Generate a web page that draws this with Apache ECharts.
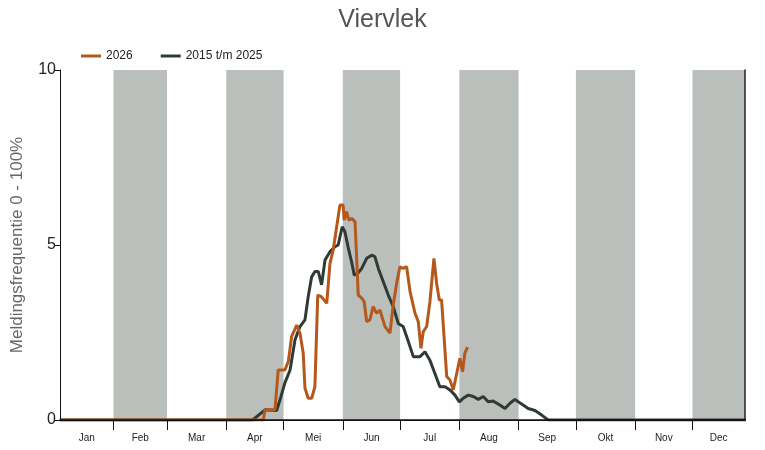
<!DOCTYPE html>
<html>
<head>
<meta charset="utf-8">
<script src="https://cdn.jsdelivr.net/npm/echarts@6/dist/echarts.min.js"></script>
<style>
  html, body { margin: 0; padding: 0; background: #fff; }
  #chart { width: 765px; height: 450px; }
</style>
</head>
<body>
<div id="chart"></div>
<script>
// day of year (Jan 1 = 0), value in %
var months = ['Jan', 'Feb', 'Mar', 'Apr', 'Mei', 'Jun', 'Jul', 'Aug', 'Sep', 'Okt', 'Nov', 'Dec'];
var monthStarts = [0, 31, 59, 90, 120, 151, 181, 212, 243, 273, 304, 334, 365];
var xMin = 3;
var xMax = 361.5;
var yTicks = [0, 5, 10];

var data2026 = [
  [3, 0], [109.4, 0], [110.3, 0.29], [115.5, 0.29], [117.2, 1.43], [120.7, 1.43],
  [122.5, 1.67], [124.2, 2.38], [126.9, 2.71], [128.6, 2.48], [130.3, 1.91], [131.2, 0.91],
  [132.9, 0.62], [134.7, 0.62], [136.4, 0.95], [137.9, 3.57], [139.9, 3.52], [142.6, 3.33],
  [144.3, 4.48], [146, 4.86], [147.8, 5.52], [149.5, 6.14], [151.2, 6.14], [151.7, 5.71],
  [153, 5.95], [154.2, 5.71], [155.6, 5.76], [157.4, 5.67], [158.3, 5.62], [159.1, 3.57],
  [160.9, 3.48], [162.2, 3.38], [163.5, 2.81], [165.2, 2.86], [166.9, 3.24], [168.7, 3.05],
  [170.5, 3.14], [171.7, 2.91], [173.1, 2.67], [175.7, 2.48], [177.4, 3.29], [179.2, 3.91],
  [180.9, 4.38], [182.6, 4.33], [184.4, 4.38], [186.2, 3.67], [188.8, 3.05], [190.5, 2.81],
  [191.9, 2.05], [193.1, 2.52], [194.9, 2.67], [196.6, 3.38], [198.7, 4.62], [200.1, 3.91],
  [201.5, 3.43], [202.7, 3.43], [205.4, 1.24], [207.1, 1.14], [208.8, 0.86], [210.6, 1.33],
  [212.3, 1.76], [213.7, 1.38], [214.9, 1.91], [216.3, 2.08]
];

var dataHist = [
  [3, 0], [103.8, 0], [110.3, 0.29], [116.4, 0.27], [118.1, 0.57], [120.7, 1.06],
  [123.4, 1.43], [126, 2.29], [128.6, 2.67], [131.2, 2.86], [132.9, 3.52], [134.7, 4.09],
  [136.4, 4.24], [138.2, 4.24], [139.9, 3.86], [141.7, 4.57], [144.3, 4.81], [146.9, 4.95],
  [148.6, 5.0], [150.7, 5.52], [152.1, 5.38], [153.9, 4.91], [155.6, 4.52], [157, 4.14],
  [158.8, 4.19], [160.9, 4.33], [163.5, 4.62], [166.1, 4.71], [167.8, 4.67], [169.6, 4.33],
  [172.2, 3.95], [174.8, 3.57], [177.4, 3.24], [180, 2.76], [182.6, 2.67], [185.3, 2.24],
  [187.9, 1.81], [191.4, 1.81], [194, 1.95], [196.6, 1.71], [199.2, 1.33], [201.8, 0.95],
  [204.5, 0.95], [207.1, 0.86], [209.7, 0.71], [212, 0.52], [214, 0.62], [216.7, 0.71],
  [219.3, 0.67], [221.9, 0.59], [224.5, 0.67], [227.1, 0.52], [229.7, 0.54], [233.2, 0.43],
  [235.9, 0.33], [238.5, 0.48], [241.1, 0.59], [242.8, 0.52], [245.4, 0.43], [248, 0.33],
  [251.6, 0.27], [255.1, 0.14], [258.5, 0], [362, 0]
];

// label positions: middle of the visible part of each month
var labelDays = [];
for (var i = 0; i < 12; i++) {
  var a = Math.max(monthStarts[i], xMin);
  var b = Math.min(monthStarts[i + 1], xMax);
  labelDays.push((a + b) / 2);
}

// grey bands for every other month
var bands = [];
for (var j = 1; j < 12; j += 2) {
  bands.push([{xAxis: monthStarts[j]}, {xAxis: Math.min(monthStarts[j + 1], xMax)}]);
}

var font = 'Liberation Sans, Arial, sans-serif';
var myChart = echarts.init(document.getElementById('chart'));

var option = {
  animation: false,
  textStyle: {fontFamily: font},
  title: {
    text: 'Viervlek',
    left: 'center',
    top: 3,
    textStyle: {fontSize: 25, fontWeight: 'normal', color: '#555', fontFamily: font}
  },
  legend: {
    data: ['2026', '2015 t/m 2025'],
    left: 76,
    top: 45,
    icon: 'rect',
    itemWidth: 20,
    itemHeight: 3,
    itemGap: 28,
    textStyle: {fontSize: 12, color: '#222', fontFamily: font}
  },
  grid: {left: 60, right: 20, top: 70, bottom: 30},
  xAxis: [{
    type: 'value',
    min: xMin,
    max: xMax,
    z: 10,
    splitLine: {show: false},
    axisLine: {lineStyle: {color: '#111', width: 1.5}},
    axisTick: {
      customValues: monthStarts.slice(1, 12),
      length: 10,
      lineStyle: {color: '#111'}
    },
    axisLabel: {
      customValues: labelDays,
      margin: 13,
      fontSize: 10,
      color: '#222',
      fontFamily: font,
      formatter: function (v) {
        for (var k = 0; k < labelDays.length; k++) {
          if (Math.abs(labelDays[k] - v) < 0.01) return months[k];
        }
        return '';
      }
    }
  }, {
    type: 'value',
    position: 'top',
    min: xMin,
    max: xMax,
    z: 10,
    splitLine: {show: false},
    axisTick: {show: false},
    axisLabel: {show: false},
    axisLine: {show: true, lineStyle: {color: '#111', width: 1}}
  }],
  yAxis: [{
    type: 'value',
    min: 0,
    max: 10,
    interval: 5,
    z: 10,
    name: 'Meldingsfrequentie 0 - 100%',
    nameLocation: 'middle',
    nameGap: 34,
    nameTextStyle: {fontSize: 17, color: '#666', fontFamily: font},
    splitLine: {show: false},
    axisLine: {show: true, lineStyle: {color: '#111', width: 1}},
    axisTick: {show: true, length: 5, lineStyle: {color: '#111'}},
    axisLabel: {
      fontSize: 16,
      color: '#222',
      margin: 4,
      fontFamily: font,
      formatter: function (v) { return yTicks.indexOf(v) >= 0 ? String(v) : ''; }
    }
  }, {
    type: 'value',
    position: 'right',
    min: 0,
    max: 10,
    z: 10,
    splitLine: {show: false},
    axisTick: {show: false},
    axisLabel: {show: false},
    axisLine: {show: true, lineStyle: {color: '#222', width: 1.5}}
  }],
  series: [{
    name: 'bands',
    type: 'line',
    data: [],
    z: 1,
    silent: true,
    markArea: {
      silent: true,
      itemStyle: {color: '#bbbfbb'},
      data: bands
    }
  }, {
    name: '2015 t/m 2025',
    type: 'line',
    data: dataHist,
    z: 3,
    showSymbol: false,
    lineStyle: {color: '#2f3a34', width: 3},
    itemStyle: {color: '#2f3a34'}
  }, {
    name: '2026',
    type: 'line',
    data: data2026,
    z: 4,
    showSymbol: false,
    lineStyle: {color: '#b4581c', width: 3},
    itemStyle: {color: '#b4581c'}
  }]
};

myChart.setOption(option);
</script>
</body>
</html>
